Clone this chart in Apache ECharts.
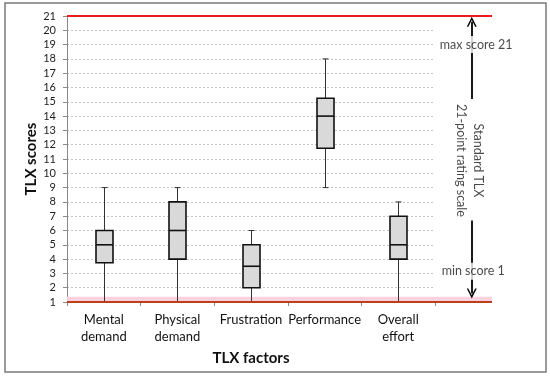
<!DOCTYPE html>
<html><head><meta charset="utf-8">
<script src="https://cdn.jsdelivr.net/npm/echarts@6/dist/echarts.min.js"></script>
<style>html,body{margin:0;padding:0;background:#fff}#c{width:550px;height:376px}</style>
</head><body><div id="c"></div>
<script>
const categories = ['Mental\ndemand', 'Physical\ndemand', 'Frustration', 'Performance', 'Overall\neffort'];
const minVals = [1, 1, 1, 9, 1];
const q1Vals = [3.75, 4, 2, 11.75, 4];
const medianVals = [5, 6, 3.5, 14, 5];
const q3Vals = [6, 8, 5, 15.25, 7];
const maxVals = [9, 9, 6, 18, 8];
const scaleMin = 1;
const scaleMax = 21;
const scaleStep = 1;
// annotation positions in category-slot units (slot 5 = column right of the boxes)
const annX = 5;
const topArrow = [15.2, 20.6];
const bottomArrow = [6.7, 1.6];
const annTexts = [
  {x: 5.06, y: 19, text: 'max score 21', rot: 0, bg: true},
  {x: 5.02, y: 3.15, text: 'min score 1', rot: 0, bg: true},
  {x: 5.09, y: 10.9, text: 'Standard TLX', rot: -90, bg: false},
  {x: 4.85, y: 10.9, text: '21-point rating scale', rot: -90, bg: false}
];

const FONT = 'Lato';
const boxData = categories.map((c, i) => [i, minVals[i], q1Vals[i], medianVals[i], q3Vals[i], maxVals[i]]);
const chevron = 'path://M0,10 L5,0 L10,10 L8.4,10 L5,3.2 L1.6,10 Z';

const chart = echarts.init(document.getElementById('c'), null, {renderer: 'canvas'});
chart.setOption({
  animation: false,
  textStyle: {fontFamily: FONT},
  graphic: [{type: 'rect', shape: {x: 5, y: 3, width: 541, height: 369}, style: {fill: 'none', stroke: '#7a7a7a', lineWidth: 1.5}, silent: true}],
  grid: [
    {left: 67, right: 115, top: 16, bottom: 74},
    {left: 67, right: 58, top: 16, bottom: 74}
  ],
  xAxis: [
    {type: 'category', data: categories, gridIndex: 0,
     axisLine: {show: false},
     axisTick: {show: true, length: 4, interval: 0, lineStyle: {color: '#888'}},
     axisLabel: {interval: 0, margin: 9, fontSize: 13, lineHeight: 17, color: '#111', fontFamily: FONT},
     name: 'TLX factors', nameLocation: 'middle', nameGap: 49, nameMoveOverlap: false,
     nameTextStyle: {fontSize: 15, fontWeight: 'bold', color: '#111', fontFamily: FONT}},
    {type: 'value', gridIndex: 1, min: -0.5, max: 5.275, show: false}
  ],
  yAxis: [
    {type: 'value', gridIndex: 0, min: scaleMin, max: scaleMax, interval: scaleStep,
     axisLine: {show: true, lineStyle: {color: '#8a8a8a', width: 1}},
     axisTick: {show: true, length: 4, lineStyle: {color: '#8a8a8a'}},
     axisLabel: {fontSize: 11, color: '#222', margin: 11, fontFamily: FONT},
     splitLine: {show: true, lineStyle: {color: '#c4c4c4', type: [2, 2], width: 1}},
     name: 'TLX scores', nameLocation: 'middle', nameGap: 28, nameMoveOverlap: false,
     nameTextStyle: {fontSize: 15, fontWeight: 'bold', color: '#111', fontFamily: FONT}},
    {type: 'value', gridIndex: 1, min: scaleMin, max: scaleMax, show: false}
  ],
  series: [
    // pink band along the bottom
    {type: 'line', xAxisIndex: 1, yAxisIndex: 1, data: [[-0.5, scaleMin + 0.2], [5.275, scaleMin + 0.2]],
     symbol: 'none', lineStyle: {color: '#fbd3de', width: 5}, z: 2, silent: true},
    {type: 'custom', xAxisIndex: 0, yAxisIndex: 0, data: boxData, z: 3,
     encode: {x: 0, y: [1, 2, 3, 4, 5]},
     renderItem: function (params, api) {
       const idx = api.value(0);
       const pMin = api.coord([idx, api.value(1)]);
       const pQ1 = api.coord([idx, api.value(2)]);
       const pMed = api.coord([idx, api.value(3)]);
       const pQ3 = api.coord([idx, api.value(4)]);
       const pMax = api.coord([idx, api.value(5)]);
       const bw = 17, cw = 6;
       const x = Math.round(pMed[0]) + 0.5;
       return {type: 'group', children: [
         {type: 'line', shape: {x1: x, y1: pQ3[1], x2: x, y2: pMax[1]}, style: {stroke: '#333', lineWidth: 1}},
         {type: 'line', shape: {x1: x, y1: pQ1[1], x2: x, y2: pMin[1]}, style: {stroke: '#333', lineWidth: 1}},
         {type: 'line', shape: {x1: x - cw / 2, y1: pMax[1], x2: x + cw / 2, y2: pMax[1]}, style: {stroke: '#333', lineWidth: 1}},
         {type: 'line', shape: {x1: x - cw / 2, y1: pMin[1], x2: x + cw / 2, y2: pMin[1]}, style: {stroke: '#333', lineWidth: 1}},
         {type: 'rect', shape: {x: x - bw / 2, y: pQ3[1], width: bw, height: pQ1[1] - pQ3[1]}, style: {fill: '#d9d9d9', stroke: '#111', lineWidth: 1.6}},
         {type: 'line', shape: {x1: x - bw / 2, y1: pMed[1], x2: x + bw / 2, y2: pMed[1]}, style: {stroke: '#111', lineWidth: 1.6}}
       ]};
     }},
    // bottom scale line
    {type: 'line', xAxisIndex: 1, yAxisIndex: 1, data: [[-0.5, scaleMin], [5.275, scaleMin]],
     symbol: 'none', lineStyle: {color: '#b8401e', width: 2}, z: 5, silent: true},
    // top scale line + arrows
    {type: 'line', xAxisIndex: 1, yAxisIndex: 1, data: [[-0.5, scaleMax], [5.275, scaleMax]],
     symbol: 'none', lineStyle: {color: '#ee1c1c', width: 2}, z: 5, silent: true,
     markLine: {silent: true, animation: false, label: {show: false},
       lineStyle: {color: '#000', width: 1.8, type: 'solid'},
       symbol: ['none', chevron], symbolSize: [10, 10],
       data: [
         [{coord: [annX, topArrow[0]]}, {coord: [annX, topArrow[1]]}],
         [{coord: [annX, bottomArrow[0]]}, {coord: [annX, bottomArrow[1]]}]
       ]}},
    {type: 'scatter', xAxisIndex: 1, yAxisIndex: 1, symbolSize: 0, z: 10, silent: true,
     data: annTexts.map(a => ({value: [a.x, a.y],
       label: {show: true, position: 'inside', formatter: a.text, rotate: a.rot,
         fontSize: 12.5, color: '#1a1a1a', fontFamily: FONT,
         backgroundColor: a.bg ? '#fff' : 'transparent', padding: a.bg ? [2, 2] : 0}}))}
  ]
});
</script></body></html>
